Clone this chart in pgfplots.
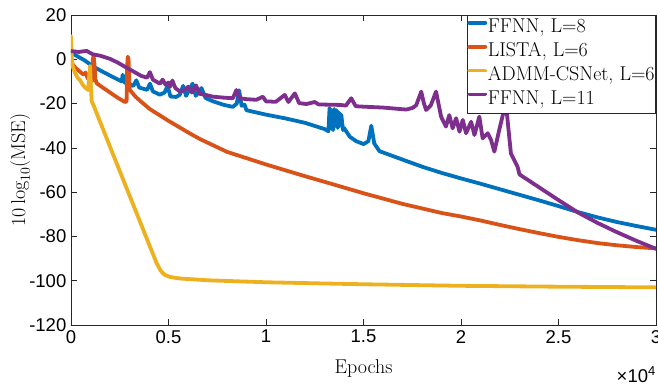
\RequirePackage{fix-cm}
\documentclass[border=0pt]{standalone}
\usepackage{fontspec}
\usepackage{pgfplots}
\pgfplotsset{compat=1.18}
\newfontfamily\ticksf{Liberation Sans}

\definecolor{mblue}{rgb}{0,0.447,0.741}
\definecolor{morange}{rgb}{0.850,0.325,0.098}
\definecolor{myellow}{rgb}{0.929,0.694,0.125}
\definecolor{mpurple}{rgb}{0.494,0.184,0.556}
\definecolor{axisgray}{rgb}{0.15,0.15,0.15}

\begin{document}
\begin{tikzpicture}
\begin{axis}[
  name=ax,
  scale only axis, width=585pt, height=310pt,
  xmin=0, xmax=30000, ymin=-120, ymax=20,
  xtick={0,5000,...,30000}, ytick={-120,-100,...,20},
  xticklabels={0,0.5,1,1.5,2,2.5,3},
  yticklabels={-120,-100,-80,-60,-40,-20,0,20},
  scaled x ticks=false,
  tick label style={font=\ticksf\fontsize{18.5}{18.5}\selectfont},
  xticklabel style={inner ysep=5pt},
  yticklabel style={inner xsep=4.5pt},
  tick align=inside, major tick length=6pt,
  axis line style={axisgray, line width=0.6pt},
  every tick/.style={axisgray, line width=0.6pt},
  xlabel={Epochs}, ylabel={$10\log_{10}(\mathrm{MSE})$},
  label style={font=\fontsize{20}{20}\selectfont},
  xlabel style={at={(axis description cs:0.5,-0.155)}, anchor=base},
  ylabel style={at={(axis description cs:-0.0786,0.5)}, anchor=base},
  legend style={at={(axis description cs:1,1)}, anchor=north east,
    draw=axisgray, line width=0.6pt, fill=white,
    font=\fontsize{20}{20}\selectfont,
    inner xsep=0.5pt, inner ysep=1pt, row sep=0pt, column sep=0pt,
    cells={anchor=west},
    nodes={inner xsep=0.6pt, inner ysep=2.2pt, text height=14pt, text depth=5.5pt}},
  legend image code/.code={\draw[#1] (0pt,5.5pt) -- (16pt,5.5pt);},
  every axis plot/.append style={line width=3.8pt, line join=round, line cap=round},
  extra description/.code={
    \node[anchor=base east, inner sep=0pt, font=\ticksf\fontsize{18.5}{18.5}\selectfont]
      at (axis description cs:1,-0.184) {\texttimes10\textsuperscript{4}};
  },
]

% FFNN with 8 layers
\addplot[mblue] coordinates {
(0,3) (300,1.5) (700,-0.5) (1143,-3.3) (1600,-5.5) (2100,-7.8) (2600,-10)
(2650,-7) (2750,-10.5) (3200,-12) (3350,-9.5) (3500,-12.8) (3900,-13.8)
(4050,-11) (4200,-14.5) (4557,-16) (4800,-15) (4950,-12) (5100,-16.8)
(5400,-17) (5580,-16) (5750,-12) (5900,-16.5) (6230,-11) (6400,-16.5)
(6690,-13) (6900,-17.5) (7286,-19) (7800,-20.5) (8300,-21.5) (8500,-20)
(8620,-14) (8750,-21) (8900,-20.5) (9000,-23) (10000,-25) (11000,-26.7)
(12000,-28.7) (13000,-31.5) (13200,-32.5) (13260,-22) (13320,-31)
(13380,-23) (13440,-32) (13500,-22.5) (13560,-30) (13620,-23) (13680,-31)
(13740,-24) (13800,-30) (13860,-25) (13950,-32) (14000,-31)
(14300,-35) (14630,-37) (15000,-38.3) (15250,-37) (15400,-30) (15550,-38)
(15820,-41.5) (17000,-45.3) (18000,-48.5) (19000,-51.3) (20000,-53.8)
(21000,-56.2) (22000,-58.7) (23000,-61.2) (24000,-63.7) (25000,-66.3)
(26000,-69) (27000,-71.4) (28000,-73.5) (29000,-75.3) (30000,-77)
};
\addlegendentry{FFNN, L=8}

% LISTA with 6 layers
\addplot[morange] coordinates {
(0,-1) (100,-2.5) (250,-4) (461,-5.6) (650,-7) (750,-6) (850,-8.5)
(973,-9.4) (1080,-9.8) (1120,0) (1160,1.5) (1200,-2) (1250,-9) (1314,-10.8)
(1600,-12.6) (2000,-15) (2400,-17.4) (2765,-19.3) (2850,-19) (2880,-3)
(2910,1.2) (2950,0) (2990,-10) (3021,-13.9) (3300,-16.8) (3600,-19.2)
(4045,-22.5) (5000,-27.8) (6000,-33) (6605,-36) (8000,-41.8) (10000,-47.5)
(12000,-52.8) (13260,-56) (15000,-60.5) (17000,-65.3) (19000,-69.4)
(20000,-71) (21000,-72.8) (22000,-74.8) (23000,-76.7) (24000,-78.5)
(25000,-80.2) (26000,-81.7) (27000,-83) (28000,-84) (29000,-84.8)
(30000,-85.4)
};
\addlegendentry{LISTA, L=6}

% ADMM-CSNet with 6 stages
\addplot[myellow] coordinates {
(0,10.5) (40,1) (80,-3) (200,-6) (350,-8.5) (461,-9.4) (600,-11.5)
(750,-13) (887,-13.9) (930,-8) (973,-3) (1010,-10) (1060,-19) (1143,-20.5)
(2000,-39.5) (3000,-61.5) (4000,-83.5) (4388,-92) (4600,-95.5)
(4800,-97.3) (5069,-98.3) (5580,-99) (7000,-99.8) (8310,-100.2)
(10000,-100.7) (13260,-101.3) (15000,-101.6) (20000,-102.3)
(25000,-102.7) (30000,-103)
};
\addlegendentry{ADMM-CSNet, L=6}

% FFNN with 11 layers
\addplot[mpurple] coordinates {
(0,3.7) (400,3.3) (800,3.8) (1000,2.8) (1143,2.2) (1500,1.6) (2000,0.2)
(2400,-1.5) (2850,-3.8) (3200,-5.5) (3600,-7.5) (3900,-8.3) (4045,-5.8)
(4200,-9.2) (4557,-11) (4700,-9.2) (4850,-11.5) (5000,-10.5) (5069,-12.5)
(5200,-9.6) (5350,-13) (5580,-14.5) (5800,-14) (6006,-12.4) (6200,-15)
(6410,-11.8) (6600,-15.6) (7000,-16.3) (7286,-16.9) (7800,-17.3)
(8300,-17.6) (8480,-13.9) (8650,-17.6) (9000,-18) (9500,-18.3)
(9840,-16.9) (10000,-19) (10500,-19.2) (10960,-16.1) (11150,-19.3)
(11480,-15.4) (11700,-19.8) (12070,-20.2) (12500,-19.3) (12700,-20.4)
(13200,-20.5) (13770,-20.6) (14100,-20.9) (14370,-17.6) (14600,-21.2)
(15000,-21.4) (16000,-21.8) (17190,-22.7) (17500,-22) (17700,-20.8)
(17960,-14.6) (18100,-20) (18210,-22.9) (18450,-20.8) (18720,-14.6)
(18980,-25.9) (19060,-27.4) (19230,-30.4) (19400,-25.2) (19570,-31.2)
(19750,-26.6) (19920,-32.7) (20090,-27.4) (20260,-33.4) (20520,-28.2)
(20690,-34.2) (20940,-25.9) (21110,-35.7) (21370,-33.4) (21540,-36.4)
(21710,-41.7) (21960,-31.9) (22150,-25) (22310,-20.5) (22450,-33)
(22560,-42.5) (22900,-48.5) (23000,-52) (24000,-57.8) (25000,-63.6)
(26000,-69.2) (27000,-73.9) (28000,-78.1) (29000,-82) (30000,-85.6)
};
\addlegendentry{FFNN, L=11}

\end{axis}
\pgfresetboundingbox
\path[use as bounding box] ([shift={(-71pt,-61pt)}]ax.south west)
  rectangle ([shift={(2pt,15pt)}]ax.north east);
\end{tikzpicture}
\end{document}
